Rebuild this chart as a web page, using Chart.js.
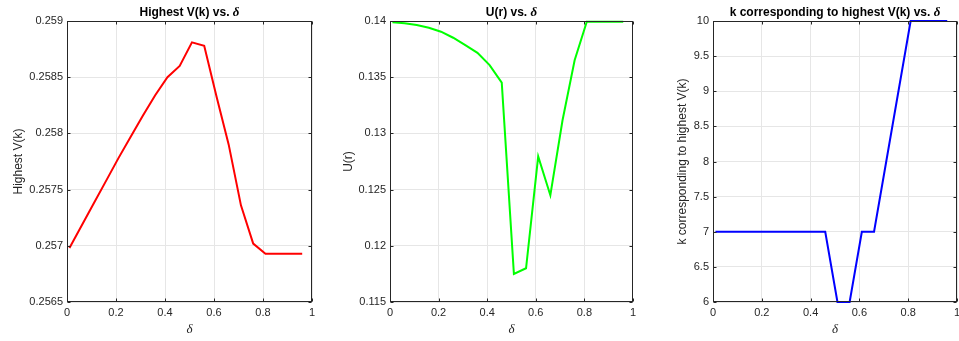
<!DOCTYPE html>
<html>
<head>
<meta charset="utf-8">
<script src="https://cdn.jsdelivr.net/npm/chart.js@4.4.1/dist/chart.umd.min.js"></script>
<style>
  html, body { margin: 0; padding: 0; background: #fff; overflow: hidden; width: 959px; height: 341px; }
  canvas { position: absolute; top: 0; }
</style>
</head>
<body>
<canvas id="c1" width="320" height="341" style="left:0px"></canvas>
<canvas id="c2" width="320" height="341" style="left:320px"></canvas>
<canvas id="c3" width="330" height="341" style="left:640px"></canvas>
<script>
// discount factor sweep
const delta = [0.01, 0.06, 0.11, 0.16, 0.21, 0.26, 0.31, 0.36, 0.41, 0.46,
               0.51, 0.56, 0.61, 0.66, 0.71, 0.76, 0.81, 0.86, 0.91, 0.96];
const highestV = [0.25698, 0.25718, 0.25738, 0.25758, 0.25778, 0.25797, 0.25816, 0.25834, 0.2585, 0.2586,
                  0.25881, 0.25878, 0.25833, 0.2579, 0.25736, 0.25702, 0.25693, 0.25693, 0.25693, 0.25693];
const utility = [0.13988, 0.13979, 0.13964, 0.1394, 0.13905, 0.13851, 0.13785, 0.13717, 0.13607, 0.13452,
                 0.1175, 0.118, 0.12796, 0.1245, 0.13115, 0.13651, 0.13994, 0.13994, 0.13994, 0.13994];
const bestK = [7, 7, 7, 7, 7, 7, 7, 7, 7, 7,
               6, 6, 7, 7, 8, 9, 10, 10, 10, 10];

const deltaTicks = [0, 0.2, 0.4, 0.6, 0.8, 1];
const vTicks = [0.2565, 0.257, 0.2575, 0.258, 0.2585, 0.259];
const uTicks = [0.115, 0.12, 0.125, 0.13, 0.135, 0.14];
const kTicks = [6, 6.5, 7, 7.5, 8, 8.5, 9, 9.5, 10];

const axisColor = '#262626';
const gridColor = '#e6e6e6';
const sans = '"Liberation Sans", Arial, Helvetica, sans-serif';
const serif = '"Liberation Serif", "DejaVu Serif", serif';

// box, inward tick marks and the mixed-font title
const matlabAxes = {
  id: 'matlabAxes',
  afterDraw(chart, args, opts) {
    const { ctx, chartArea: a, scales } = chart;
    const L = Math.round(a.left) + 0.5, R = Math.round(a.right) - 0.5;
    const T = Math.round(a.top) + 0.5, B = Math.round(a.bottom) - 0.5;
    const tl = 3;
    ctx.save();
    ctx.strokeStyle = axisColor;
    ctx.lineWidth = 1;
    ctx.beginPath();
    scales.x.ticks.forEach(t => {
      const px = Math.round(scales.x.getPixelForValue(t.value)) + 0.5;
      ctx.moveTo(px, B); ctx.lineTo(px, B - tl);
      ctx.moveTo(px, T); ctx.lineTo(px, T + tl);
    });
    scales.y.ticks.forEach(t => {
      const py = Math.round(scales.y.getPixelForValue(t.value)) + 0.5;
      ctx.moveTo(L, py); ctx.lineTo(L + tl, py);
      ctx.moveTo(R, py); ctx.lineTo(R - tl, py);
    });
    ctx.stroke();
    ctx.strokeRect(L, T, R - L, B - T);

    const head = opts.title[0], sym = opts.title[1];
    const f1 = 'bold 12px ' + sans, f2 = 'italic bold 13px ' + serif;
    ctx.font = f1; const w1 = ctx.measureText(head).width;
    ctx.font = f2; const w2 = ctx.measureText(sym).width;
    let x = (a.left + a.right) / 2 - (w1 + w2) / 2;
    ctx.fillStyle = '#000';
    ctx.textBaseline = 'alphabetic';
    ctx.textAlign = 'left';
    ctx.font = f1; ctx.fillText(head, x, 16);
    ctx.font = f2; ctx.fillText(sym, x + w1, 16);
    ctx.restore();
  }
};

function makePanel(id, values, color, yMin, yMax, yTicks, yLabel, title, yWidth, yTitlePad, padRight) {
  const points = delta.map((d, i) => ({ x: d, y: values[i] }));
  return new Chart(document.getElementById(id), {
    type: 'line',
    data: {
      datasets: [{
        data: points,
        borderColor: color,
        borderWidth: 2,
        pointRadius: 0,
        tension: 0,
        fill: false,
        clip: 3
      }]
    },
    options: {
      responsive: false,
      animation: false,
      layout: { padding: { left: 0, top: 21, right: padRight, bottom: 0 } },
      plugins: {
        legend: { display: false },
        tooltip: { enabled: false },
        matlabAxes: { title: title }
      },
      scales: {
        x: {
          type: 'linear',
          min: 0,
          max: 1,
          afterBuildTicks: s => { s.ticks = deltaTicks.map(v => ({ value: v })); },
          afterFit: s => { s.height = 39; },
          grid: { color: gridColor, drawTicks: false },
          border: { display: false },
          ticks: {
            padding: 4,
            color: axisColor,
            font: { family: sans, size: 11 },
            maxRotation: 0,
            callback: v => String(v)
          },
          title: {
            display: true,
            text: 'δ',
            color: axisColor,
            font: { family: serif, size: 13, style: 'italic' },
            padding: { top: 0, bottom: 4 }
          }
        },
        y: {
          type: 'linear',
          min: yMin,
          max: yMax,
          afterBuildTicks: s => { s.ticks = yTicks.map(v => ({ value: v })); },
          afterFit: s => { s.width = yWidth; },
          grid: { color: gridColor, drawTicks: false },
          border: { display: false },
          ticks: {
            padding: 4,
            color: axisColor,
            font: { family: sans, size: 11 },
            callback: v => String(v)
          },
          title: {
            display: true,
            text: yLabel,
            color: axisColor,
            font: { family: sans, size: 12 },
            padding: { top: yTitlePad, bottom: 0 }
          }
        }
      }
    },
    plugins: [matlabAxes]
  });
}

makePanel('c1', highestV, '#ff0000', 0.2565, 0.259, vTicks, 'Highest V(k)',
  ['Highest V(k) vs. ', 'δ'], 67, 11, 8);
makePanel('c2', utility, '#00ff00', 0.115, 0.14, uTicks, 'U(r)',
  ['U(r) vs. ', 'δ'], 70, 21, 4);
makePanel('c3', bestK, '#0000ff', 6, 10, kTicks, 'k corresponding to highest V(k)',
  ['k corresponding to highest V(k) vs. ', 'δ'], 73, 35, 13);
</script>
</body>
</html>
